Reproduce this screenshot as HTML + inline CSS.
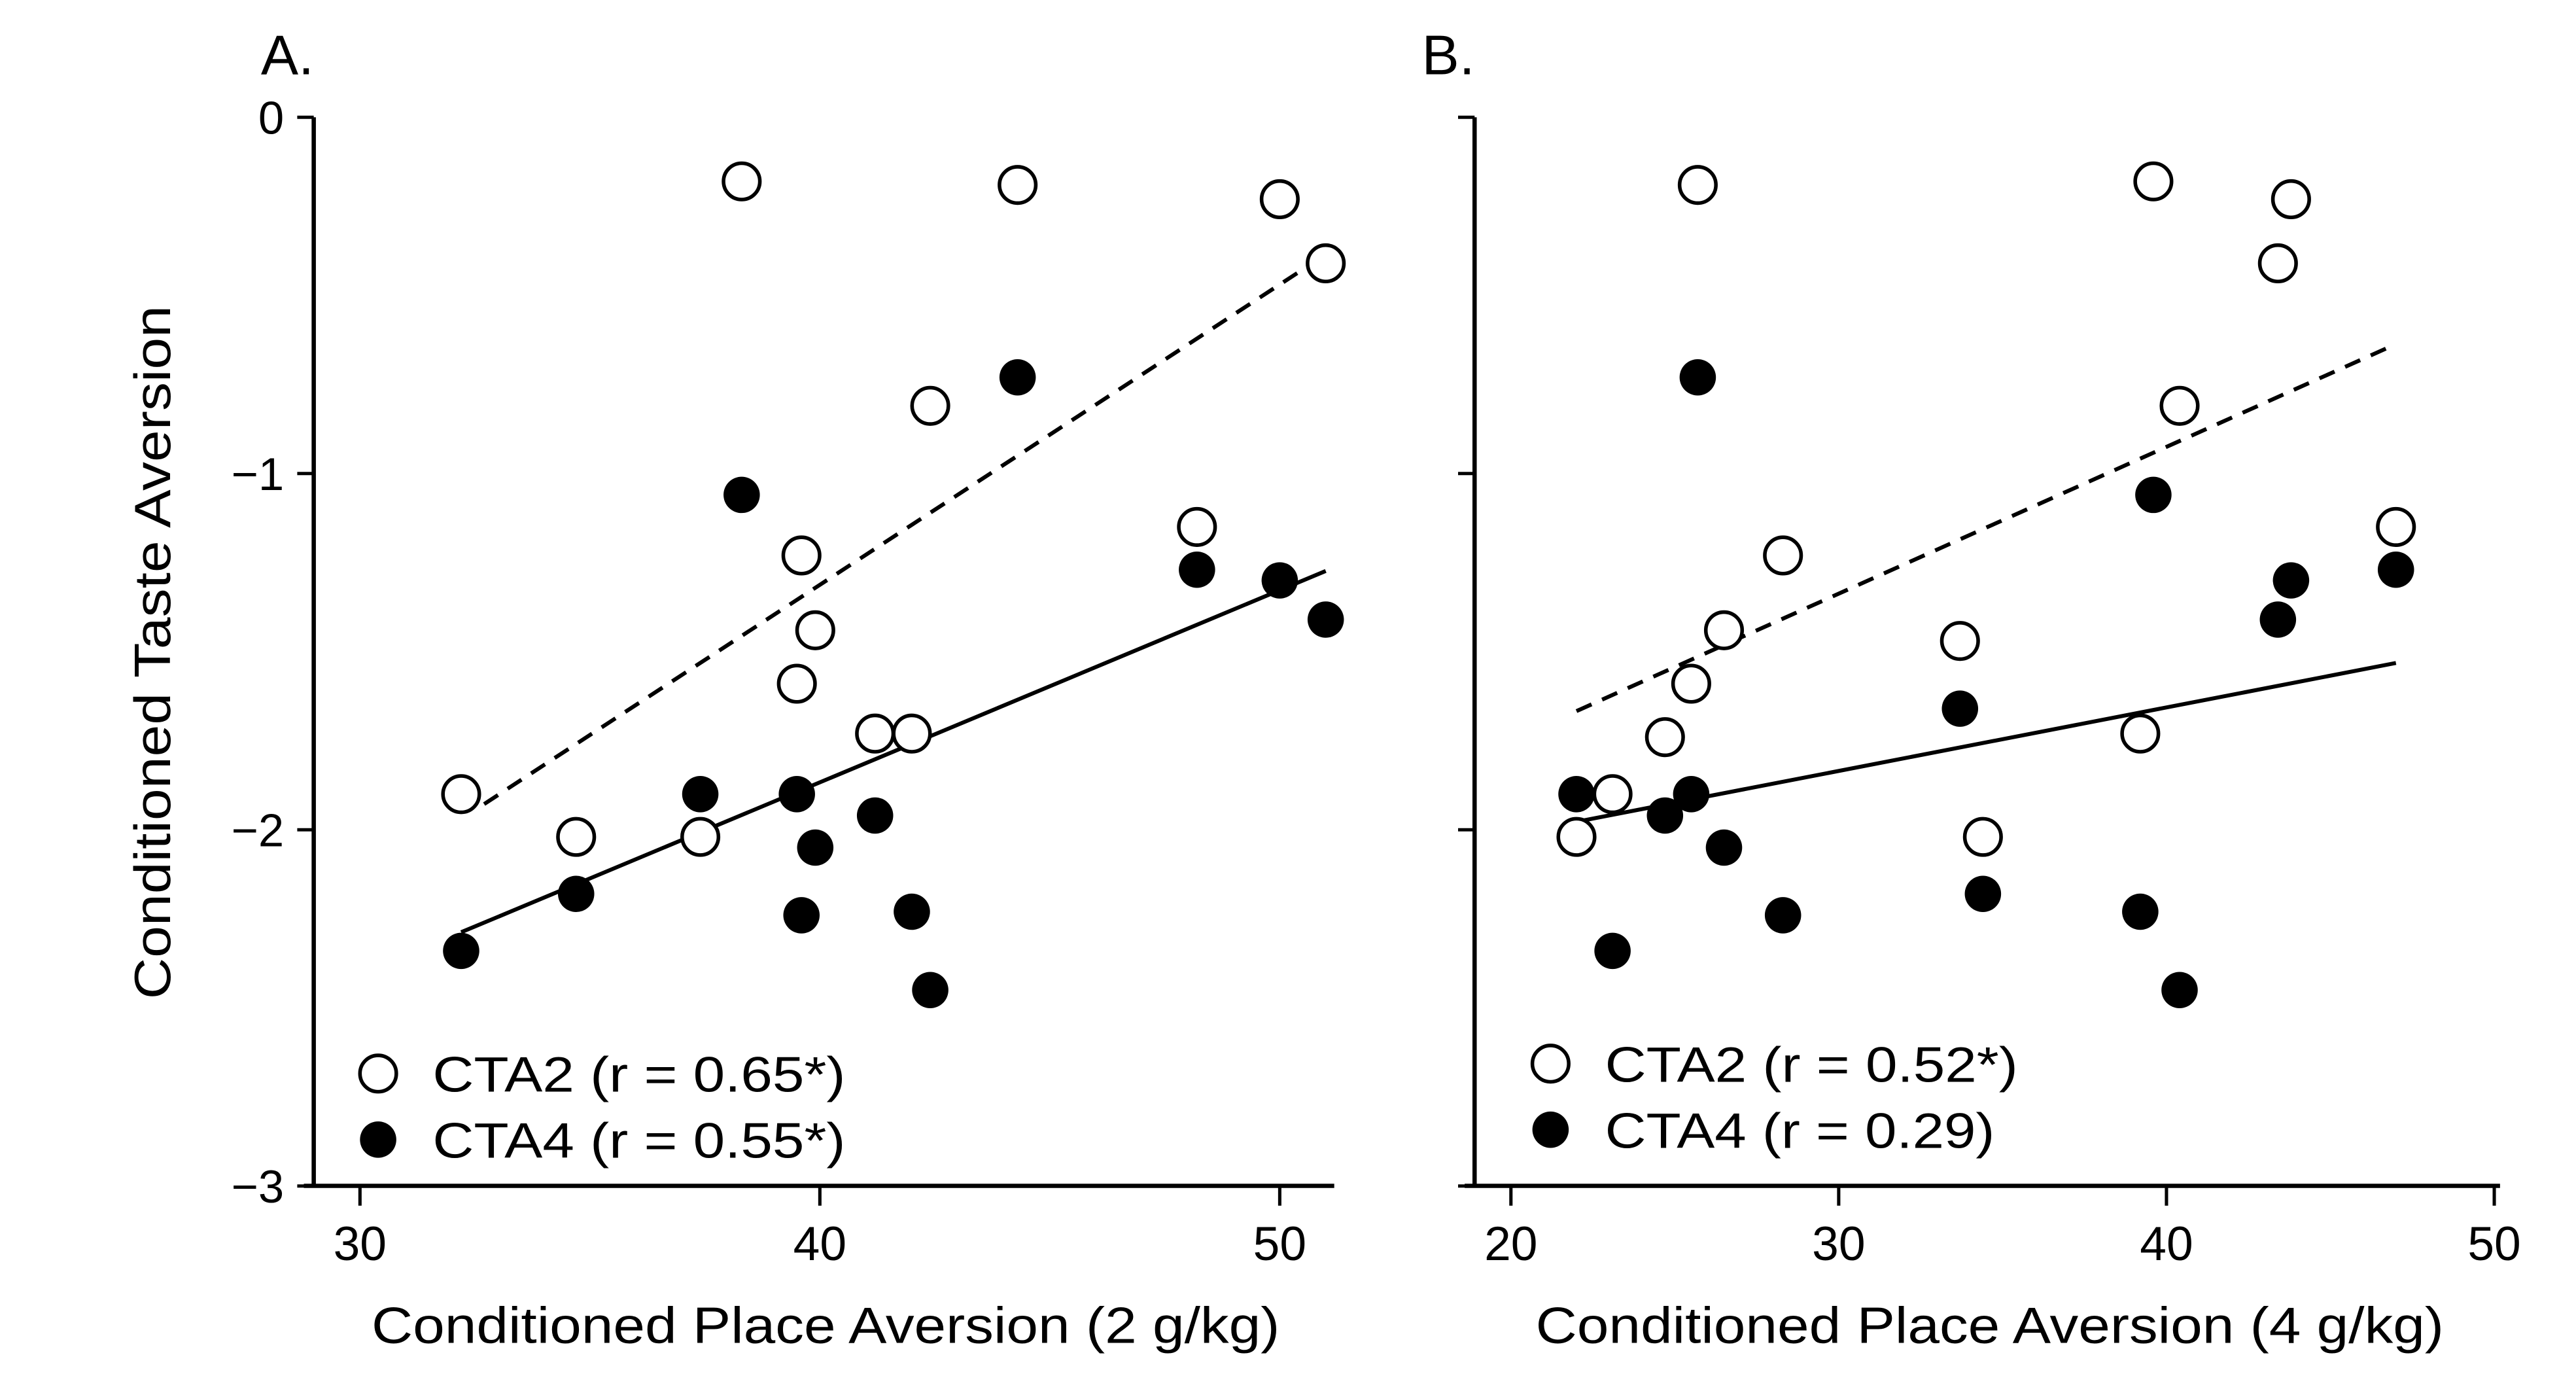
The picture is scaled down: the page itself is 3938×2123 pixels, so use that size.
<!DOCTYPE html>
<html><head><meta charset="utf-8"><style>
html,body{margin:0;padding:0;background:#fff;}
svg{display:block;}
text{font-family:"Liberation Sans",Arial,sans-serif;fill:#000;}
</style></head><body>
<svg id="chart" width="3938" height="2123" viewBox="0 0 1560 841" preserveAspectRatio="none" xmlns="http://www.w3.org/2000/svg">
<rect width="1560" height="841" fill="#fff"/>
</svg>
<script>
const yTicks = [0, -1, -2, -3];
const xTicksA = [30, 40, 50];
const xTicksB = [20, 30, 40, 50];
const aCta2X = [32.2,34.7,37.4,38.3,39.6,39.5,39.9,41.2,42.0,42.4,44.3,48.2,50.0,51.0];
const aCta2Y = [-1.90,-2.02,-2.02,-0.18,-1.23,-1.59,-1.44,-1.73,-1.73,-0.81,-0.19,-1.15,-0.23,-0.41];
const aCta4X = [32.2,34.7,37.4,38.3,39.5,39.6,39.9,41.2,42.0,42.4,44.3,48.2,50.0,51.0];
const aCta4Y = [-2.34,-2.18,-1.90,-1.06,-1.90,-2.24,-2.05,-1.96,-2.23,-2.45,-0.73,-1.27,-1.30,-1.41];
const bCta2X = [22.0,23.1,24.7,25.5,25.7,26.5,28.3,33.7,34.4,39.2,39.6,40.4,43.4,43.8,47.0];
const bCta2Y = [-2.02,-1.90,-1.74,-1.59,-0.19,-1.44,-1.23,-1.47,-2.02,-1.73,-0.18,-0.81,-0.41,-0.23,-1.15];
const bCta4X = [22.0,23.1,24.7,25.5,25.7,26.5,28.3,33.7,34.4,39.2,39.6,40.4,43.4,43.8,47.0];
const bCta4Y = [-1.90,-2.34,-1.96,-1.90,-0.73,-2.05,-2.24,-1.66,-2.18,-2.23,-1.06,-2.45,-1.41,-1.30,-1.27];

const NS = "http://www.w3.org/2000/svg";
const svg = document.getElementById('chart');
function mk(tag, attrs, parent){const e=document.createElementNS(NS,tag);for(const k in attrs)e.setAttribute(k,attrs[k]);(parent||svg).appendChild(e);return e;}
function fit(xs,ys){const n=xs.length;let mx=0,my=0;for(let i=0;i<n;i++){mx+=xs[i];my+=ys[i];}mx/=n;my/=n;let sxy=0,sxx=0;for(let i=0;i<n;i++){sxy+=(xs[i]-mx)*(ys[i]-my);sxx+=(xs[i]-mx)**2;}const b=sxy/sxx;return {b:b,a:my-b*mx};}

function panel(cfg){
  const g = mk('g',{});
  
  
  const yS = v => 71 + (0 - v) * 215.7;
  const xS = v => cfg.x0px + (v - cfg.x0) * cfg.pxPer;
  const ya = mk('line',{x1:cfg.ax,y1:71,x2:cfg.ax,y2:718,stroke:'#000','stroke-width':2.6},g);
   
  const xa = mk('line',{x1:cfg.ax-6,y1:718,x2:cfg.axEnd,y2:718,stroke:'#000','stroke-width':2.6},g);
   
  yTicks.forEach(v=>{
    const t = mk('line',{x1:cfg.ax-10,y1:yS(v),x2:cfg.ax,y2:yS(v),stroke:'#000','stroke-width':2},g);
     
    if(cfg.ylabels){
      const l = mk('text',{x:cfg.ax-18,y:yS(v)+10,'font-size':28,'text-anchor':'end'},g);
      l.textContent = v===0?'0':'\u2212'+Math.abs(v);
       
    }
  });
  cfg.xticks.forEach(v=>{
    const t = mk('line',{x1:xS(v),y1:718,x2:xS(v),y2:730,stroke:'#000','stroke-width':2},g);
     
    const l = mk('text',{x:xS(v),y:763,'font-size':29,'text-anchor':'middle'},g);
    l.textContent = v;
     
  });
  const xt = mk('text',{x:cfg.xTitleX,y:813,'font-size':31,'text-anchor':'middle',textLength:550,lengthAdjust:'spacingAndGlyphs'},g);
  xt.textContent = cfg.xTitle;
   
  const pl = mk('text',{x:cfg.ax-32,y:45,'font-size':34},g);
  pl.textContent = cfg.label;
   
  const f2 = fit(cfg.o.x,cfg.o.y), f4 = fit(cfg.f.x,cfg.f.y);
  const l2 = mk('line',{x1:xS(cfg.d0),y1:yS(f2.a+f2.b*cfg.d0),x2:xS(cfg.d1),y2:yS(f2.a+f2.b*cfg.d1),stroke:'#000','stroke-width':2.4,'stroke-dasharray':'10,7'},g);
   
  const l4 = mk('line',{x1:xS(cfg.s0),y1:yS(f4.a+f4.b*cfg.s0),x2:xS(cfg.s1),y2:yS(f4.a+f4.b*cfg.s1),stroke:'#000','stroke-width':2.4},g);
   
  cfg.f.x.forEach((v,i)=>{
    const c = mk('circle',{cx:xS(v),cy:yS(cfg.f.y[i]),r:11,fill:'#000'},g);
     
  });
  cfg.o.x.forEach((v,i)=>{
    const c = mk('circle',{cx:xS(v),cy:yS(cfg.o.y[i]),r:11,fill:'#fff',stroke:'#000','stroke-width':2.2},g);
     
  });
  const lg = mk('g',{},g);
   
  const e1 = mk('circle',{cx:cfg.lx,cy:cfg.ly,r:11,fill:'#fff',stroke:'#000','stroke-width':2.2},lg);
   
  const t1 = mk('text',{x:cfg.lx+33,y:cfg.ly+11,'font-size':30,textLength:cfg.tl1,lengthAdjust:'spacingAndGlyphs'},lg);
  t1.textContent = cfg.leg1;
   
  const e2 = mk('circle',{cx:cfg.lx,cy:cfg.ly+40,r:11,fill:'#000'},lg);
   
  const t2 = mk('text',{x:cfg.lx+33,y:cfg.ly+51,'font-size':30,textLength:cfg.tl2,lengthAdjust:'spacingAndGlyphs'},lg);
  t2.textContent = cfg.leg2;
   
}

panel({name:'panel-a',label:'A.',ax:190,axEnd:808,x0:30,x0px:218,pxPer:27.85,xticks:xTicksA,ylabels:true,
  xTitle:'Conditioned Place Aversion (2 g/kg)',xTitleX:500,
  o:{x:aCta2X,y:aCta2Y},f:{x:aCta4X,y:aCta4Y},d0:32.7,d1:51.0,s0:32.2,s1:51.0,
  lx:229,ly:650,leg1:'CTA2 (r = 0.65*)',leg2:'CTA4 (r = 0.55*)',tl1:250,tl2:250});
panel({name:'panel-b',label:'B.',ax:893,axEnd:1514,x0:20,x0px:915,pxPer:19.85,xticks:xTicksB,ylabels:false,
  xTitle:'Conditioned Place Aversion (4 g/kg)',xTitleX:1205,
  o:{x:bCta2X,y:bCta2Y},f:{x:bCta4X,y:bCta4Y},d0:22.0,d1:47.0,s0:22.0,s1:47.0,
  lx:939,ly:644,leg1:'CTA2 (r = 0.52*)',leg2:'CTA4 (r = 0.29)',tl1:250,tl2:236});

const yt = mk('text',{x:0,y:0,'font-size':31,'text-anchor':'middle',textLength:420,lengthAdjust:'spacingAndGlyphs',transform:'translate(103,395) rotate(-90)'});
yt.textContent = 'Conditioned Taste Aversion';


</script>
</body></html>
